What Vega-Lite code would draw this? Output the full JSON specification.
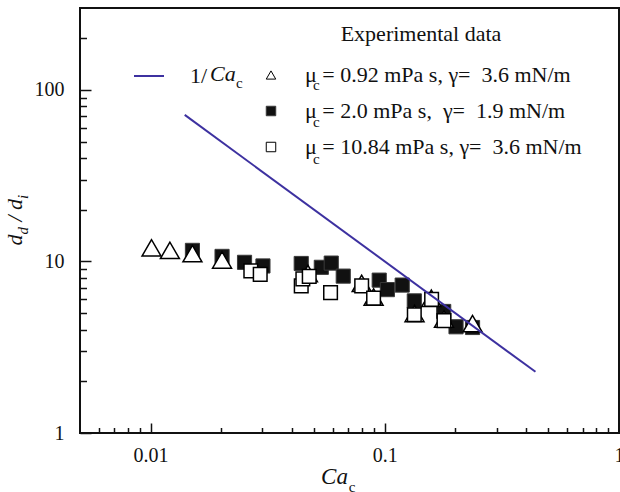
{
  "$schema": "https://vega.github.io/schema/vega-lite/v6.json",
  "width": 539,
  "height": 425,
  "autosize": "none",
  "padding": {"left": 80, "top": 8, "right": 1, "bottom": 59},
  "background": "white",
  "config": {
    "font": "Liberation Serif, Times New Roman, Times, DejaVu Serif, serif",
    "view": {"stroke": "#111", "strokeWidth": 2},
    "axis": {"grid": false, "domain": false, "labelFont": "Liberation Serif, Times New Roman, Times, DejaVu Serif, serif", "titleFont": "Liberation Serif, Times New Roman, Times, DejaVu Serif, serif", "labelColor": "#111", "titleColor": "#111", "tickColor": "#111", "titleFontWeight": "normal"},
    "legend": {"labelFont": "Liberation Serif, Times New Roman, Times, DejaVu Serif, serif", "titleFont": "Liberation Serif, Times New Roman, Times, DejaVu Serif, serif", "labelColor": "#111", "titleColor": "#111", "titleFontWeight": "normal", "padding": 0, "labelLimit": 600}
  },
  "datasets": {
    "pts": [
      {"series": "μ = 0.92 mPa s, γ=\u00a0 3.6 mN/m", "ca": 0.0101, "ratio": 12.0},
      {"series": "μ = 0.92 mPa s, γ=\u00a0 3.6 mN/m", "ca": 0.0121, "ratio": 11.6},
      {"series": "μ = 0.92 mPa s, γ=\u00a0 3.6 mN/m", "ca": 0.0151, "ratio": 11.1},
      {"series": "μ = 0.92 mPa s, γ=\u00a0 3.6 mN/m", "ca": 0.0202, "ratio": 10.2},
      {"series": "μ = 0.92 mPa s, γ=\u00a0 3.6 mN/m", "ca": 0.047, "ratio": 8.5},
      {"series": "μ = 0.92 mPa s, γ=\u00a0 3.6 mN/m", "ca": 0.0797, "ratio": 7.45},
      {"series": "μ = 0.92 mPa s, γ=\u00a0 3.6 mN/m", "ca": 0.0896, "ratio": 6.2},
      {"series": "μ = 0.92 mPa s, γ=\u00a0 3.6 mN/m", "ca": 0.134, "ratio": 4.97},
      {"series": "μ = 0.92 mPa s, γ=\u00a0 3.6 mN/m", "ca": 0.158, "ratio": 6.1},
      {"series": "μ = 0.92 mPa s, γ=\u00a0 3.6 mN/m", "ca": 0.179, "ratio": 4.62},
      {"series": "μ = 0.92 mPa s, γ=\u00a0 3.6 mN/m", "ca": 0.237, "ratio": 4.34},
      {"series": "μ = 2.0 mPa s,\u00a0 γ=\u00a0 1.9 mN/m", "ca": 0.0151, "ratio": 11.6},
      {"series": "μ = 2.0 mPa s,\u00a0 γ=\u00a0 1.9 mN/m", "ca": 0.0202, "ratio": 10.7},
      {"series": "μ = 2.0 mPa s,\u00a0 γ=\u00a0 1.9 mN/m", "ca": 0.0252, "ratio": 9.88},
      {"series": "μ = 2.0 mPa s,\u00a0 γ=\u00a0 1.9 mN/m", "ca": 0.0302, "ratio": 9.41},
      {"series": "μ = 2.0 mPa s,\u00a0 γ=\u00a0 1.9 mN/m", "ca": 0.044, "ratio": 9.73},
      {"series": "μ = 2.0 mPa s,\u00a0 γ=\u00a0 1.9 mN/m", "ca": 0.0536, "ratio": 9.24},
      {"series": "μ = 2.0 mPa s,\u00a0 γ=\u00a0 1.9 mN/m", "ca": 0.0591, "ratio": 9.78},
      {"series": "μ = 2.0 mPa s,\u00a0 γ=\u00a0 1.9 mN/m", "ca": 0.0665, "ratio": 8.21},
      {"series": "μ = 2.0 mPa s,\u00a0 γ=\u00a0 1.9 mN/m", "ca": 0.0947, "ratio": 7.78},
      {"series": "μ = 2.0 mPa s,\u00a0 γ=\u00a0 1.9 mN/m", "ca": 0.1026, "ratio": 6.85},
      {"series": "μ = 2.0 mPa s,\u00a0 γ=\u00a0 1.9 mN/m", "ca": 0.1187, "ratio": 7.28},
      {"series": "μ = 2.0 mPa s,\u00a0 γ=\u00a0 1.9 mN/m", "ca": 0.1337, "ratio": 5.89},
      {"series": "μ = 2.0 mPa s,\u00a0 γ=\u00a0 1.9 mN/m", "ca": 0.1785, "ratio": 5.11},
      {"series": "μ = 2.0 mPa s,\u00a0 γ=\u00a0 1.9 mN/m", "ca": 0.2015, "ratio": 4.16},
      {"series": "μ = 2.0 mPa s,\u00a0 γ=\u00a0 1.9 mN/m", "ca": 0.237, "ratio": 4.12},
      {"series": "μ = 10.84 mPa s, γ=\u00a0 3.6 mN/m", "ca": 0.0268, "ratio": 8.81},
      {"series": "μ = 10.84 mPa s, γ=\u00a0 3.6 mN/m", "ca": 0.0294, "ratio": 8.41},
      {"series": "μ = 10.84 mPa s, γ=\u00a0 3.6 mN/m", "ca": 0.044, "ratio": 7.2},
      {"series": "μ = 10.84 mPa s, γ=\u00a0 3.6 mN/m", "ca": 0.0447, "ratio": 7.91},
      {"series": "μ = 10.84 mPa s, γ=\u00a0 3.6 mN/m", "ca": 0.0476, "ratio": 8.18},
      {"series": "μ = 10.84 mPa s, γ=\u00a0 3.6 mN/m", "ca": 0.0587, "ratio": 6.58},
      {"series": "μ = 10.84 mPa s, γ=\u00a0 3.6 mN/m", "ca": 0.0797, "ratio": 7.2},
      {"series": "μ = 10.84 mPa s, γ=\u00a0 3.6 mN/m", "ca": 0.0896, "ratio": 6.11},
      {"series": "μ = 10.84 mPa s, γ=\u00a0 3.6 mN/m", "ca": 0.1337, "ratio": 4.89},
      {"series": "μ = 10.84 mPa s, γ=\u00a0 3.6 mN/m", "ca": 0.1585, "ratio": 6.01},
      {"series": "μ = 10.84 mPa s, γ=\u00a0 3.6 mN/m", "ca": 0.179, "ratio": 4.52}
    ],
    "curve": [
      {"curve": "1/Ca", "ca": 0.014, "ratio": 71.43},
      {"curve": "1/Ca", "ca": 0.44, "ratio": 2.273}
    ]
  },
  "layer": [
    {
      "data": {"name": "pts"},
      "transform": [{"filter": {"field": "series", "equal": "μ = 2.0 mPa s,\u00a0 γ=\u00a0 1.9 mN/m"}}],
      "mark": {"type": "point", "size": 200, "strokeWidth": 1, "opacity": 1},
      "encoding": {
        "x": {"field": "ca", "type": "quantitative", "scale": {"type": "log", "domain": [0.005, 1], "nice": false},
          "axis": {"orient": "bottom", "values": [0.006, 0.007, 0.008, 0.009, 0.01, 0.02, 0.03, 0.04, 0.05, 0.06, 0.07, 0.08, 0.09, 0.1, 0.2, 0.3, 0.4, 0.5, 0.6, 0.7, 0.8, 0.9, 1],
            "format": "~g", "labelExpr": "(datum.value == 0.01 || datum.value == 0.1 || datum.value == 1) ? datum.label : ''",
            "tickSize": {"condition": {"test": "datum.value == 0.01 || datum.value == 0.1 || datum.value == 1", "value": -10}, "value": -5.5},
            "tickWidth": 1.5, "labelFontSize": 20, "labelPadding": 22, "labelFlush": false, "labelOverlap": false,
            "title": "Ca", "titleFontStyle": "italic", "titleFontSize": 23, "titleX": 254, "titleY": 50, "titleAlign": "center", "titleBaseline": "alphabetic"}},
        "y": {"field": "ratio", "type": "quantitative", "scale": {"type": "log", "domain": [1, 300], "nice": false},
          "axis": {"orient": "left", "values": [1, 2, 3, 4, 5, 6, 7, 8, 9, 10, 20, 30, 40, 50, 60, 70, 80, 90, 100, 200],
            "format": "~g", "labelExpr": "(datum.value == 1 || datum.value == 10 || datum.value == 100) ? datum.label : ''",
            "tickSize": {"condition": {"test": "datum.value == 1 || datum.value == 10 || datum.value == 100", "value": -11}, "value": -6.5},
            "tickWidth": 1.5, "labelFontSize": 20, "labelPadding": 27, "labelFlush": false, "labelOverlap": false,
            "title": "d", "titleFontStyle": "italic", "titleFontSize": 22, "titleAngle": 270, "titleX": -59, "titleY": 237, "titleAlign": "left", "titleBaseline": "alphabetic"}},
        "shape": {"field": "series", "type": "nominal",
          "scale": {"domain": ["μ = 0.92 mPa s, γ=\u00a0 3.6 mN/m", "μ = 2.0 mPa s,\u00a0 γ=\u00a0 1.9 mN/m", "μ = 10.84 mPa s, γ=\u00a0 3.6 mN/m"], "range": ["triangle-up", "square", "square"]},
          "legend": {"title": "Experimental data", "orient": "none", "legendX": 180, "legendY": 16, "titleFontSize": 22, "titleAnchor": "middle", "titlePadding": 18, "labelFontSize": 22, "labelOffset": 23, "symbolSize": 90, "symbolStrokeWidth": 1, "rowPadding": 14}},
        "fill": {"field": "series", "type": "nominal",
          "scale": {"domain": ["μ = 0.92 mPa s, γ=\u00a0 3.6 mN/m", "μ = 2.0 mPa s,\u00a0 γ=\u00a0 1.9 mN/m", "μ = 10.84 mPa s, γ=\u00a0 3.6 mN/m"], "range": ["#ffffff", "#111111", "#ffffff"]},
          "legend": {"title": "Experimental data", "orient": "none", "legendX": 180, "legendY": 16, "titleFontSize": 22, "titleAnchor": "middle", "titlePadding": 18, "labelFontSize": 22, "labelOffset": 23, "symbolSize": 90, "symbolStrokeWidth": 1, "rowPadding": 14}},
        "stroke": {"field": "series", "type": "nominal",
          "scale": {"domain": ["μ = 0.92 mPa s, γ=\u00a0 3.6 mN/m", "μ = 2.0 mPa s,\u00a0 γ=\u00a0 1.9 mN/m", "μ = 10.84 mPa s, γ=\u00a0 3.6 mN/m"], "range": ["#000000", "#3a3a3a", "#000000"]},
          "legend": {"title": "Experimental data", "orient": "none", "legendX": 180, "legendY": 16, "titleFontSize": 22, "titleAnchor": "middle", "titlePadding": 18, "labelFontSize": 22, "labelOffset": 23, "symbolSize": 90, "symbolStrokeWidth": 1, "rowPadding": 14}}
      }
    },
    {
      "data": {"name": "pts"},
      "transform": [{"filter": {"field": "series", "equal": "μ = 0.92 mPa s, γ=\u00a0 3.6 mN/m"}}],
      "mark": {"type": "point", "size": 360, "strokeWidth": 1.5, "opacity": 1},
      "encoding": {
        "x": {"field": "ca", "type": "quantitative", "scale": {"type": "log", "domain": [0.005, 1], "nice": false},
          "axis": {"orient": "bottom", "labels": false, "ticks": false, "domain": false, "title": "c", "titleFontSize": 15, "titleX": 271.5, "titleY": 58, "titleAlign": "center", "titleBaseline": "alphabetic"}},
        "y": {"field": "ratio", "type": "quantitative", "scale": {"type": "log", "domain": [1, 300], "nice": false},
          "axis": {"orient": "left", "labels": false, "ticks": false, "domain": false, "title": "d", "titleFontStyle": "italic", "titleFontSize": 15, "titleAngle": 270, "titleX": -53, "titleY": 226, "titleAlign": "left", "titleBaseline": "alphabetic"}},
        "shape": {"field": "series", "type": "nominal"},
        "fill": {"field": "series", "type": "nominal"},
        "stroke": {"field": "series", "type": "nominal"}
      }
    },
    {
      "data": {"name": "pts"},
      "transform": [{"filter": {"field": "series", "equal": "μ = 10.84 mPa s, γ=\u00a0 3.6 mN/m"}}],
      "mark": {"type": "point", "size": 185, "strokeWidth": 1.5, "opacity": 1},
      "encoding": {
        "x": {"field": "ca", "type": "quantitative", "scale": {"type": "log", "domain": [0.005, 1], "nice": false}, "axis": null},
        "y": {"field": "ratio", "type": "quantitative", "scale": {"type": "log", "domain": [1, 300], "nice": false},
          "axis": {"orient": "left", "labels": false, "ticks": false, "domain": false, "title": "/ d", "titleFontStyle": "italic", "titleFontSize": 22, "titleAngle": 270, "titleX": -59, "titleY": 213, "titleAlign": "left", "titleBaseline": "alphabetic"}},
        "shape": {"field": "series", "type": "nominal"},
        "fill": {"field": "series", "type": "nominal"},
        "stroke": {"field": "series", "type": "nominal"}
      }
    },
    {
      "data": {"name": "curve"},
      "mark": {"type": "line"},
      "encoding": {
        "x": {"field": "ca", "type": "quantitative", "scale": {"type": "log", "domain": [0.005, 1], "nice": false}, "axis": null},
        "y": {"field": "ratio", "type": "quantitative", "scale": {"type": "log", "domain": [1, 300], "nice": false},
          "axis": {"orient": "left", "labels": false, "ticks": false, "domain": false, "title": "i", "titleFontStyle": "italic", "titleFontSize": 15, "titleAngle": 270, "titleX": -53, "titleY": 190.5, "titleAlign": "left", "titleBaseline": "alphabetic"}},
        "color": {"field": "curve", "type": "nominal", "scale": {"domain": ["1/Ca"], "range": ["#3d31a0"]},
          "legend": {"title": null, "orient": "none", "legendX": 53, "legendY": 52, "symbolType": "stroke", "symbolSize": 900, "symbolStrokeWidth": 2, "labelExpr": "'1/'", "labelFontSize": 22, "labelOffset": 25}},
        "opacity": {"field": "curve", "type": "nominal", "scale": {"domain": ["1/Ca", "-"], "range": [1, 1]},
          "legend": {"title": null, "orient": "none", "legendX": 108, "legendY": 55, "values": ["1/Ca"], "symbolSize": 0, "symbolOpacity": 0, "labelExpr": "'Ca'", "labelFontSize": 22, "labelFontStyle": "italic", "labelOffset": 0}},
        "strokeWidth": {"field": "curve", "type": "ordinal", "scale": {"range": [2, 2]},
          "legend": {"title": null, "orient": "none", "legendX": 141, "legendY": 67, "symbolSize": 0, "symbolOpacity": 0, "labelExpr": "'c'", "labelFontSize": 15, "labelOffset": 0}}
      }
    },
    {
      "data": {"name": "pts"},
      "mark": {"type": "point", "opacity": 0},
      "encoding": {
        "size": {"field": "series", "type": "ordinal", "scale": {"range": [0, 0]},
          "legend": {"title": null, "orient": "none", "legendX": 218, "legendY": 69, "values": ["μ = 0.92 mPa s, γ=\u00a0 3.6 mN/m", "μ = 2.0 mPa s,\u00a0 γ=\u00a0 1.9 mN/m", "μ = 10.84 mPa s, γ=\u00a0 3.6 mN/m"], "symbolSize": 0, "symbolOpacity": 0, "labelExpr": "'c'", "labelFontSize": 15, "labelOffset": 0, "rowPadding": 21}}
      }
    }
  ],
  "resolve": {"scale": {"x": "independent", "y": "independent"}}
}
